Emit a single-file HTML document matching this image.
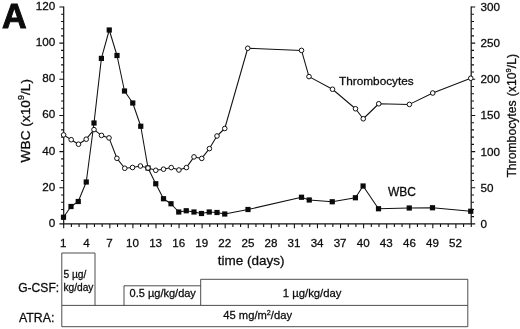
<!DOCTYPE html>
<html><head><meta charset="utf-8"><title>Figure A</title>
<style>
html,body{margin:0;padding:0;background:#fff;}
body{width:520px;height:329px;overflow:hidden;font-family:"Liberation Sans",sans-serif;}
svg{display:block;filter:grayscale(1);}
text{font-family:"Liberation Sans",sans-serif;fill:#0c0c0c;stroke:#0c0c0c;stroke-width:.28;}
.ax{stroke:#111;stroke-width:1.2;fill:none;}
.tk{stroke:#111;stroke-width:1.1;fill:none;}
.ln{stroke:#111;stroke-width:1.05;fill:none;stroke-linejoin:round;}
.bx{stroke:#3a3a3a;stroke-width:.9;fill:none;}
.sq{fill:#0a0a0a;}
.ci{fill:#fff;stroke:#111;stroke-width:1;}
</style></head><body>
<svg width="520" height="329" viewBox="0 0 520 329">
<rect width="520" height="329" fill="#fff"/>
<text transform="translate(1.9 28) scale(0.955 1)" font-size="35.7" font-weight="bold" style="stroke-width:1;stroke-linejoin:miter">A</text>
<path class="ax" d="M63.7 6.5V223.9M471.2 6.5V223.9M63.1 223.9H471.8"/>
<path class="tk" d="M59.400000000000006 223.90H63.7M61.1 216.67H63.7M61.1 209.44H63.7M61.1 202.21H63.7M61.1 194.98H63.7M59.400000000000006 187.75H63.7M61.1 180.52H63.7M61.1 173.29H63.7M61.1 166.06H63.7M61.1 158.83H63.7M59.400000000000006 151.60H63.7M61.1 144.37H63.7M61.1 137.14H63.7M61.1 129.91H63.7M61.1 122.68H63.7M59.400000000000006 115.45H63.7M61.1 108.22H63.7M61.1 100.99H63.7M61.1 93.76H63.7M61.1 86.53H63.7M59.400000000000006 79.30H63.7M61.1 72.07H63.7M61.1 64.84H63.7M61.1 57.61H63.7M61.1 50.38H63.7M59.400000000000006 43.15H63.7M61.1 35.92H63.7M61.1 28.69H63.7M61.1 21.46H63.7M61.1 14.23H63.7M59.400000000000006 7.00H63.7M471.2 223.90H475.2M471.2 216.67H474.0M471.2 209.44H474.0M471.2 202.21H474.0M471.2 194.98H474.0M471.2 187.75H475.2M471.2 180.52H474.0M471.2 173.29H474.0M471.2 166.06H474.0M471.2 158.83H474.0M471.2 151.60H475.2M471.2 144.37H474.0M471.2 137.14H474.0M471.2 129.91H474.0M471.2 122.68H474.0M471.2 115.45H475.2M471.2 108.22H474.0M471.2 100.99H474.0M471.2 93.76H474.0M471.2 86.53H474.0M471.2 79.30H475.2M471.2 72.07H474.0M471.2 64.84H474.0M471.2 57.61H474.0M471.2 50.38H474.0M471.2 43.15H475.2M471.2 35.92H474.0M471.2 28.69H474.0M471.2 21.46H474.0M471.2 14.23H474.0M471.2 7.00H475.2M63.70 223.9V228.3M71.39 223.9V226.9M79.08 223.9V226.9M86.77 223.9V228.3M94.46 223.9V226.9M102.15 223.9V226.9M109.84 223.9V228.3M117.53 223.9V226.9M125.22 223.9V226.9M132.91 223.9V228.3M140.60 223.9V226.9M148.29 223.9V226.9M155.98 223.9V228.3M163.67 223.9V226.9M171.36 223.9V226.9M179.05 223.9V228.3M186.74 223.9V226.9M194.43 223.9V226.9M202.12 223.9V228.3M209.81 223.9V226.9M217.50 223.9V226.9M225.19 223.9V228.3M232.88 223.9V226.9M240.57 223.9V226.9M248.26 223.9V228.3M255.95 223.9V226.9M263.64 223.9V226.9M271.33 223.9V228.3M279.02 223.9V226.9M286.71 223.9V226.9M294.40 223.9V228.3M302.09 223.9V226.9M309.78 223.9V226.9M317.47 223.9V228.3M325.16 223.9V226.9M332.85 223.9V226.9M340.54 223.9V228.3M348.23 223.9V226.9M355.92 223.9V226.9M363.61 223.9V228.3M371.30 223.9V226.9M378.99 223.9V226.9M386.68 223.9V228.3M394.37 223.9V226.9M402.06 223.9V226.9M409.75 223.9V228.3M417.44 223.9V226.9M425.13 223.9V226.9M432.82 223.9V228.3M440.51 223.9V226.9M448.20 223.9V226.9M455.89 223.9V228.3M463.58 223.9V226.9M471.27 223.9V226.9"/>
<text x="55.3" y="226.8" font-size="11.7" text-anchor="end">0</text>
<text x="55.3" y="190.7" font-size="11.7" text-anchor="end">20</text>
<text x="55.3" y="154.5" font-size="11.7" text-anchor="end">40</text>
<text x="55.3" y="118.4" font-size="11.7" text-anchor="end">60</text>
<text x="55.3" y="82.2" font-size="11.7" text-anchor="end">80</text>
<text x="55.3" y="46.1" font-size="11.7" text-anchor="end">100</text>
<text x="55.3" y="9.9" font-size="11.7" text-anchor="end">120</text>
<text x="480.6" y="227.8" font-size="11.7">0</text>
<text x="480.6" y="191.7" font-size="11.7">50</text>
<text x="480.6" y="155.5" font-size="11.7">100</text>
<text x="480.6" y="119.4" font-size="11.7">150</text>
<text x="480.6" y="83.2" font-size="11.7">200</text>
<text x="480.6" y="47.1" font-size="11.7">250</text>
<text x="480.6" y="10.9" font-size="11.7">300</text>
<text x="63.3" y="246.9" font-size="11.6" text-anchor="middle">1</text>
<text x="86.4" y="246.9" font-size="11.6" text-anchor="middle">4</text>
<text x="109.4" y="246.9" font-size="11.6" text-anchor="middle">7</text>
<text x="132.5" y="246.9" font-size="11.6" text-anchor="middle">10</text>
<text x="155.6" y="246.9" font-size="11.6" text-anchor="middle">13</text>
<text x="178.7" y="246.9" font-size="11.6" text-anchor="middle">16</text>
<text x="201.7" y="246.9" font-size="11.6" text-anchor="middle">19</text>
<text x="224.8" y="246.9" font-size="11.6" text-anchor="middle">22</text>
<text x="247.9" y="246.9" font-size="11.6" text-anchor="middle">25</text>
<text x="270.9" y="246.9" font-size="11.6" text-anchor="middle">28</text>
<text x="294.0" y="246.9" font-size="11.6" text-anchor="middle">31</text>
<text x="317.1" y="246.9" font-size="11.6" text-anchor="middle">34</text>
<text x="340.1" y="246.9" font-size="11.6" text-anchor="middle">37</text>
<text x="363.2" y="246.9" font-size="11.6" text-anchor="middle">40</text>
<text x="386.3" y="246.9" font-size="11.6" text-anchor="middle">43</text>
<text x="409.4" y="246.9" font-size="11.6" text-anchor="middle">46</text>
<text x="432.4" y="246.9" font-size="11.6" text-anchor="middle">49</text>
<text x="455.5" y="246.9" font-size="11.6" text-anchor="middle">52</text>
<text x="251.2" y="264.7" font-size="13.5" text-anchor="middle">time (days)</text>
<text transform="translate(29.5 162.4) rotate(-90)" font-size="13.7">WBC (x10<tspan font-size="9" dy="-5.5">9</tspan><tspan dy="5.5">/L)</tspan></text>
<text transform="translate(515.7 177.6) rotate(-90)" font-size="12.2">Thrombocytes<tspan dx="0.8"> (x10</tspan><tspan font-size="7.6" dy="-4.8">9</tspan><tspan dy="4.8">/L)</tspan></text>
<polyline class="ln" points="63.5,217.25 71,206.5 78.25,201.5 86.25,182 94,123 101.4,58.4 109.25,30 117,55.5 124.5,91 132.75,103 140.75,126.25 148,168 155.75,183.75 163.5,198.75 171,203.75 178.75,212 186.25,210.75 194,212 201.5,213.5 209.25,212 217,212.5 224.75,214 248,209.5 301.5,197.25 309.25,200 332.25,201.75 355.4,197.75 363.1,186 378.5,208.75 409.25,208 432.5,207.75 470.75,211.25"/>
<rect class="sq" x="60.90" y="214.65" width="5.2" height="5.2"/><rect class="sq" x="68.40" y="203.90" width="5.2" height="5.2"/><rect class="sq" x="75.65" y="198.90" width="5.2" height="5.2"/><rect class="sq" x="83.65" y="179.40" width="5.2" height="5.2"/><rect class="sq" x="91.40" y="120.40" width="5.2" height="5.2"/><rect class="sq" x="98.80" y="55.80" width="5.2" height="5.2"/><rect class="sq" x="106.65" y="27.40" width="5.2" height="5.2"/><rect class="sq" x="114.40" y="52.90" width="5.2" height="5.2"/><rect class="sq" x="121.90" y="88.40" width="5.2" height="5.2"/><rect class="sq" x="130.15" y="100.40" width="5.2" height="5.2"/><rect class="sq" x="138.15" y="123.65" width="5.2" height="5.2"/><rect class="sq" x="145.40" y="165.40" width="5.2" height="5.2"/><rect class="sq" x="153.15" y="181.15" width="5.2" height="5.2"/><rect class="sq" x="160.90" y="196.15" width="5.2" height="5.2"/><rect class="sq" x="168.40" y="201.15" width="5.2" height="5.2"/><rect class="sq" x="176.15" y="209.40" width="5.2" height="5.2"/><rect class="sq" x="183.65" y="208.15" width="5.2" height="5.2"/><rect class="sq" x="191.40" y="209.40" width="5.2" height="5.2"/><rect class="sq" x="198.90" y="210.90" width="5.2" height="5.2"/><rect class="sq" x="206.65" y="209.40" width="5.2" height="5.2"/><rect class="sq" x="214.40" y="209.90" width="5.2" height="5.2"/><rect class="sq" x="222.15" y="211.40" width="5.2" height="5.2"/><rect class="sq" x="245.40" y="206.90" width="5.2" height="5.2"/><rect class="sq" x="298.90" y="194.65" width="5.2" height="5.2"/><rect class="sq" x="306.65" y="197.40" width="5.2" height="5.2"/><rect class="sq" x="329.65" y="199.15" width="5.2" height="5.2"/><rect class="sq" x="352.80" y="195.15" width="5.2" height="5.2"/><rect class="sq" x="360.50" y="183.40" width="5.2" height="5.2"/><rect class="sq" x="375.90" y="206.15" width="5.2" height="5.2"/><rect class="sq" x="406.65" y="205.40" width="5.2" height="5.2"/><rect class="sq" x="429.90" y="205.15" width="5.2" height="5.2"/><rect class="sq" x="468.15" y="208.65" width="5.2" height="5.2"/>
<polyline class="ln" points="63.6,134.9 71.2,139.7 78.5,144.2 86.2,139.2 94,129.6 101.5,135.4 109,137.9 116.9,158.3 124.75,168.25 132.5,167.5 140.4,166 148,168 155.75,170.3 163.5,169.2 171.25,167.6 178.9,170 186.4,167.6 194,156.9 201.75,158.4 209.4,148.6 217,136 224.75,128.5 247.75,48.25 301.5,50.4 309,76.6 332.5,89.25 355.5,108.75 363.25,118.75 378.75,103.75 409.4,104.4 432.75,93 470.75,78.25"/>
<circle class="ci" cx="63.6" cy="134.9" r="2.3"/><circle class="ci" cx="71.2" cy="139.7" r="2.3"/><circle class="ci" cx="78.5" cy="144.2" r="2.3"/><circle class="ci" cx="86.2" cy="139.2" r="2.3"/><circle class="ci" cx="94" cy="129.6" r="2.3"/><circle class="ci" cx="101.5" cy="135.4" r="2.3"/><circle class="ci" cx="109" cy="137.9" r="2.3"/><circle class="ci" cx="116.9" cy="158.3" r="2.3"/><circle class="ci" cx="124.75" cy="168.25" r="2.3"/><circle class="ci" cx="132.5" cy="167.5" r="2.3"/><circle class="ci" cx="140.4" cy="166" r="2.3"/><circle class="ci" cx="148" cy="168" r="2.3"/><circle class="ci" cx="155.75" cy="170.3" r="2.3"/><circle class="ci" cx="163.5" cy="169.2" r="2.3"/><circle class="ci" cx="171.25" cy="167.6" r="2.3"/><circle class="ci" cx="178.9" cy="170" r="2.3"/><circle class="ci" cx="186.4" cy="167.6" r="2.3"/><circle class="ci" cx="194" cy="156.9" r="2.3"/><circle class="ci" cx="201.75" cy="158.4" r="2.3"/><circle class="ci" cx="209.4" cy="148.6" r="2.3"/><circle class="ci" cx="217" cy="136" r="2.3"/><circle class="ci" cx="224.75" cy="128.5" r="2.3"/><circle class="ci" cx="247.75" cy="48.25" r="2.3"/><circle class="ci" cx="301.5" cy="50.4" r="2.3"/><circle class="ci" cx="309" cy="76.6" r="2.3"/><circle class="ci" cx="332.5" cy="89.25" r="2.3"/><circle class="ci" cx="355.5" cy="108.75" r="2.3"/><circle class="ci" cx="363.25" cy="118.75" r="2.3"/><circle class="ci" cx="378.75" cy="103.75" r="2.3"/><circle class="ci" cx="409.4" cy="104.4" r="2.3"/><circle class="ci" cx="432.75" cy="93" r="2.3"/><circle class="ci" cx="470.75" cy="78.25" r="2.3"/>
<text x="339" y="84.6" font-size="11.8">Thrombocytes</text>
<text x="388" y="195.6" font-size="12">WBC</text>
<path class="bx" d="M61.8 305.4V253H95V305.4M124 305.4V285.8H200.7M200.7 305.4V279.3H467.8V305.4M61.8 305.4H467.8V326.7H61.8Z"/>
<text x="18.2" y="292.2" font-size="12.1">G-CSF:</text>
<text x="19" y="322.2" font-size="12.3">ATRA:</text>
<text x="63.4" y="277.6" font-size="10.2">5 µg/</text>
<text x="63.4" y="290.9" font-size="10.2">kg/day</text>
<text x="129.6" y="297.1" font-size="11">0.5 µg/kg/day</text>
<text x="282.8" y="297.1" font-size="11.3">1 µg/kg/day</text>
<text x="223.3" y="319" font-size="11.2">45 mg/m<tspan font-size="7.2" dy="-4.3">2</tspan><tspan dy="4.3">/day</tspan></text>
</svg>
</body></html>
